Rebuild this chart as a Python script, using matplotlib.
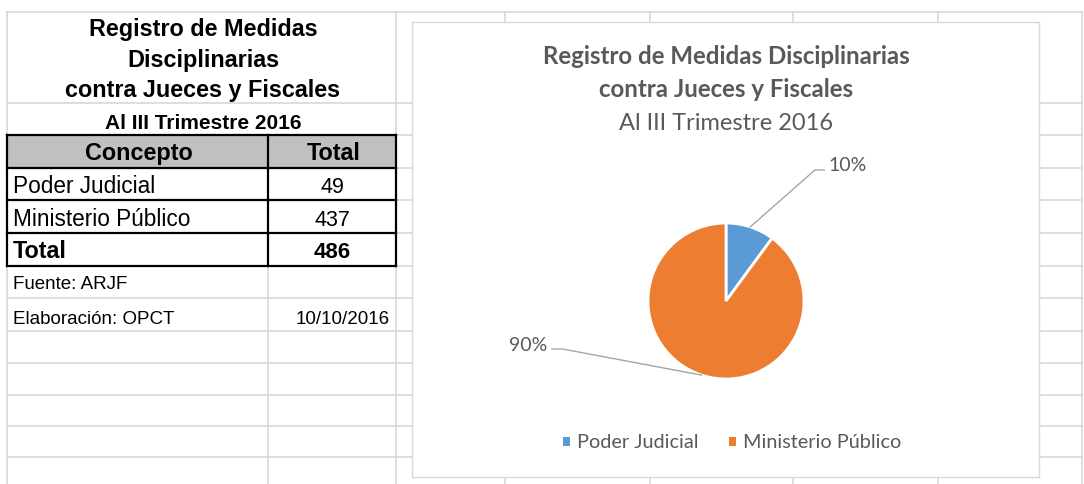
#importing libraries
import numpy as np
import matplotlib
matplotlib.use('Agg')
import matplotlib.pyplot as plt
from matplotlib.patches import Rectangle

# data
titulo = ['Registro de Medidas', 'Disciplinarias', 'contra Jueces y Fiscales']
titulo_graf = ['Registro de Medidas Disciplinarias', 'contra Jueces y Fiscales']
periodo = 'Al III Trimestre 2016'
encabezado = ['Concepto', 'Total']
conceptos = ['Poder Judicial', 'Ministerio Público']
totales = [49, 437]
fila_total = 'Total'
fuente = 'Fuente: ARJF'
elaboracion = 'Elaboración: OPCT'
fecha = '10/10/2016'

colores = ['#5B9BD5', '#ED7D31']
gris_txt = '#595959'
gris_grid = '#D4D4D4'
W, H = 1084, 484

fig = plt.figure(figsize=(W / 100, H / 100), dpi=100)

# background "sheet" axes in pixel coordinates
bg = fig.add_axes([0, 0, 1, 1])
bg.set_xlim(0, W)
bg.set_ylim(H, 0)
bg.axis('off')

# sheet grid
filas = [12, 103, 135, 168, 200, 233, 266, 298, 331, 363, 395, 426, 457]
for y in filas:
    bg.plot([7, 1082], [y, y], color=gris_grid, lw=1.1, zorder=1)
for x in [7, 396, 505, 650, 793, 938, 1082]:
    bg.plot([x, x], [12, H], color=gris_grid, lw=1.1, zorder=1)
bg.plot([268, 268], [135, H], color=gris_grid, lw=1.1, zorder=1)

# left table titles
arial = 'Liberation Sans'
for t, y in zip(titulo, [36, 67, 97]):
    bg.text(203, y, t, ha='center', va='baseline', fontsize=16.8,
            fontweight='bold', family=arial, zorder=5)
bg.text(203, 129, periodo, ha='center', va='baseline', fontsize=15,
        fontweight='bold', family=arial, zorder=5)

# table with thick borders
bg.add_patch(Rectangle((7, 135), 389, 33, facecolor='#C0C0C0', edgecolor='none', zorder=2))
for y in [135, 168, 200, 233, 266]:
    bg.plot([7, 396], [y, y], color='black', lw=1.6, zorder=3)
for x in [7, 268, 396]:
    bg.plot([x, x], [135, 266], color='black', lw=1.6, zorder=3)

bg.text(139, 160, encabezado[0], ha='center', va='baseline', fontsize=16.8,
        fontweight='bold', family=arial, zorder=5)
bg.text(334, 160, encabezado[1], ha='center', va='baseline', fontsize=16.8,
        fontweight='bold', family=arial, zorder=5)
for i, (c, v) in enumerate(zip(conceptos, totales)):
    yb = [193, 226][i]
    bg.text(13, yb, c, ha='left', va='baseline', fontsize=16.3, family=arial, zorder=5)
    bg.text(332, yb, str(v), ha='center', va='baseline', fontsize=15.5, family=arial, zorder=5)
bg.text(13, 258, fila_total, ha='left', va='baseline', fontsize=16.8,
        fontweight='bold', family=arial, zorder=5)
bg.text(332, 258, str(sum(totales)), ha='center', va='baseline', fontsize=16,
        fontweight='bold', family=arial, zorder=5)

bg.text(13, 289, fuente, ha='left', va='baseline', fontsize=13.5, family=arial, zorder=5)
bg.text(13, 324, elaboracion, ha='left', va='baseline', fontsize=13.5, family=arial, zorder=5)
bg.text(390, 324, fecha, ha='right', va='baseline', fontsize=13.5, family=arial, zorder=5)

# chart box
bx0, by0, bx1, by1 = 412, 22, 1039, 477
bg.add_patch(Rectangle((bx0, by0), bx1 - bx0, by1 - by0, facecolor='white',
                       edgecolor='#D9D9D9', lw=1.0, zorder=4))

calibri = 'Lato'
bg.text(726, 64, titulo_graf[0], ha='center', va='baseline', fontsize=17.3,
        fontweight='bold', color=gris_txt, family=calibri, zorder=5)
bg.text(726, 97, titulo_graf[1], ha='center', va='baseline', fontsize=17.3,
        fontweight='bold', color=gris_txt, family=calibri, zorder=5)
bg.text(726, 130, periodo, ha='center', va='baseline', fontsize=17,
        color=gris_txt, family=calibri, zorder=5)

# pie axes (1 data unit = pie radius in pixels)
cx, cy, r = 726, 301, 78
ax = fig.add_axes([bx0 / W, (H - by1) / H, (bx1 - bx0) / W, (by1 - by0) / H])
ax.patch.set_alpha(0)
wedges, _ = ax.pie(totales, colors=colores, startangle=90, counterclock=False,
                   wedgeprops=dict(edgecolor='white', linewidth=2))
ax.set_aspect('auto')
ax.set_xlim((bx0 - cx) / r, (bx1 - cx) / r)
ax.set_ylim((cy - by1) / r, (cy - by0) / r)
ax.axis('off')

pct = [v / sum(totales) * 100 for v in totales]
# label layout: elbow, end of leader, text pos, alignment
lay = [((1.14, 1.68), (1.26, 1.68), (1.32, 1.667), 'left'),
       ((-2.10, -0.615), (-2.23, -0.615), (-2.295, -0.641), 'right')]
for w, p, (elb, end, tp, ha) in zip(wedges, pct, lay):
    ang = np.deg2rad((w.theta1 + w.theta2) / 2)
    a = (np.cos(ang), np.sin(ang))
    ax.plot([a[0], elb[0], end[0]], [a[1], elb[1], end[1]], color='#A6A6A6', lw=1.0)
    ax.text(tp[0], tp[1], '%d%%' % round(p), ha=ha, va='baseline', fontsize=14,
            color=gris_txt, family=calibri)

leg = ax.legend(wedges, conceptos, loc='center', bbox_to_anchor=(732, 443),
                bbox_transform=bg.transData, ncol=2, frameon=False,
                handlelength=0.36, handleheight=0.36, handletextpad=0.35,
                columnspacing=1.5, prop={'family': calibri, 'size': 14.3})
for t in leg.get_texts():
    t.set_color(gris_txt)
for h in leg.legend_handles:
    h.set_edgecolor('none')

plt.savefig('out.png', dpi=100)
